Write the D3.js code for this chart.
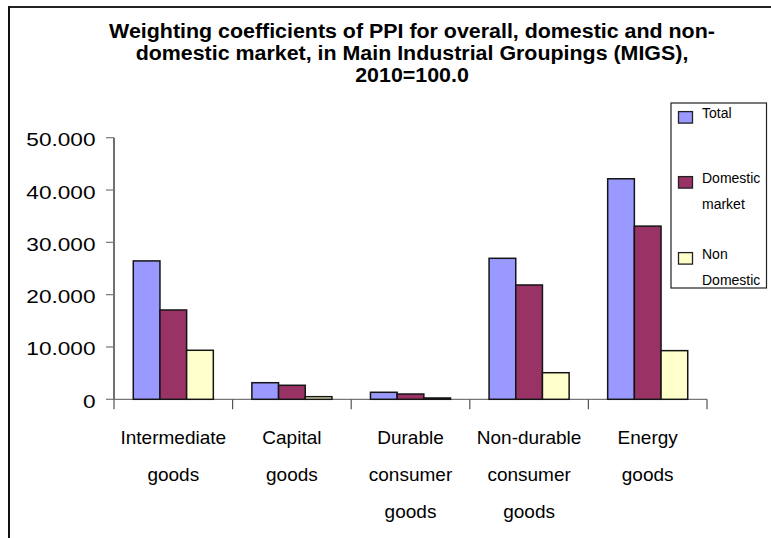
<!DOCTYPE html>
<html>
<head>
<meta charset="utf-8">
<script src="https://cdn.jsdelivr.net/npm/d3@7/dist/d3.min.js"></script>
<style>
  html, body { margin: 0; padding: 0; background: #fff; }
  svg { display: block; }
  text { font-family: "Liberation Sans", Arial, sans-serif; fill: #000; }
</style>
</head>
<body>
<svg id="chart" width="771" height="538"></svg>
<script>
// ---- data ----
const categories = [
  ["Intermediate", "goods"],
  ["Capital", "goods"],
  ["Durable", "consumer", "goods"],
  ["Non-durable", "consumer", "goods"],
  ["Energy", "goods"]
];
const seriesNames = ["Total", "Domestic market", "Non Domestic"];
const legendLines = [["Total"], ["Domestic", "market"], ["Non", "Domestic"]];
const totalValues    = [26.45, 3.17, 1.34, 26.95, 42.15];
const domesticValues = [17.07, 2.68, 1.01, 21.85, 33.10];
const nonDomValues   = [9.37, 0.50, 0.25, 5.08, 9.30];
const yTicks = [0, 10, 20, 30, 40, 50];
const yTickLabels = ["0", "10.000", "20.000", "30.000", "40.000", "50.000"];
const titleLines = [
  "Weighting coefficients of PPI for overall, domestic and non-",
  "domestic market, in Main Industrial Groupings (MIGS),",
  "2010=100.0"
];
const colors = ["#9999FF", "#993366", "#FFFFCC"];

const seriesValues = [totalValues, domesticValues, nonDomValues];

const svg = d3.select("#chart");

// outer frame (top and left)
svg.append("line").attr("x1", 9).attr("y1", 7).attr("x2", 771).attr("y2", 7)
  .attr("stroke", "#222").attr("stroke-width", 2);
svg.append("line").attr("x1", 9).attr("y1", 6).attr("x2", 9).attr("y2", 538)
  .attr("stroke", "#111").attr("stroke-width", 2);

// title
const titleG = svg.append("g");
titleLines.forEach((t, i) => {
  titleG.append("text")
    .attr("transform", `translate(412,${37.7 + i * 22}) scale(1.07,1)`)
    .attr("text-anchor", "middle")
    .attr("font-weight", "bold")
    .attr("font-size", 20)
    .text(t);
});

// scales
const plotLeft = 114, plotRight = 707, plotTop = 137.7, plotBottom = 399.3;
const x0 = d3.scaleBand().domain(d3.range(categories.length)).range([plotLeft, plotRight]).padding(0);
const bw = x0.bandwidth();
const groupW = bw * 0.675;
const x1 = d3.scaleBand().domain(d3.range(seriesNames.length))
  .range([(bw - groupW) / 2, (bw + groupW) / 2]).padding(0);
const y = d3.scaleLinear().domain([0, 50]).range([plotBottom, plotTop]);

// y axis
const yAxis = svg.append("g");
yAxis.append("line").attr("x1", plotLeft).attr("x2", plotLeft)
  .attr("y1", y(50)).attr("y2", y(0)).attr("stroke", "#222").attr("stroke-width", 1.3);
yTicks.forEach((v, i) => {
  yAxis.append("line").attr("x1", plotLeft - 8).attr("x2", plotLeft)
    .attr("y1", y(v)).attr("y2", y(v)).attr("stroke", "#777").attr("stroke-width", 1.2);
  yAxis.append("text")
    .attr("transform", `translate(95.5,${y(v) + 8.5}) scale(1.19,1)`)
    .attr("text-anchor", "end")
    .attr("font-size", 19)
    .attr("fill", "#111")
    .text(yTickLabels[i]);
});

// x axis
const xAxis = svg.append("g");
xAxis.append("line").attr("x1", plotLeft).attr("x2", plotRight)
  .attr("y1", y(0)).attr("y2", y(0)).attr("stroke", "#777").attr("stroke-width", 1.3);
const tickXs = d3.range(categories.length).map(i => x0(i)).concat([x0(categories.length - 1) + bw]);
tickXs.forEach(tx => {
  xAxis.append("line").attr("x1", tx).attr("x2", tx)
    .attr("y1", y(0)).attr("y2", y(0) + 10).attr("stroke", i => "#555").attr("stroke-width", 1.2);
});
categories.forEach((lines, i) => {
  lines.forEach((ln, j) => {
    xAxis.append("text")
      .attr("x", x0(i) + bw / 2)
      .attr("y", 443.5 + j * 37)
      .attr("text-anchor", "middle")
      .attr("font-size", 19)
      .attr("fill", "#111")
      .text(ln);
  });
});

// bars
const groups = svg.append("g").selectAll("g")
  .data(categories.map((c, i) => i))
  .join("g")
  .attr("transform", i => `translate(${x0(i)},0)`);
groups.selectAll("rect")
  .data(i => seriesValues.map((vals, s) => ({ s, v: vals[i] })))
  .join("rect")
  .attr("x", d => x1(d.s))
  .attr("width", x1.bandwidth())
  .attr("y", d => y(d.v))
  .attr("height", d => y(0) - y(d.v))
  .attr("fill", d => colors[d.s])
  .attr("stroke", "#151515")
  .attr("stroke-width", 1.5);

// legend
const lg = svg.append("g");
lg.append("rect").attr("x", 671).attr("y", 103).attr("width", 95.5).attr("height", 185)
  .attr("fill", "#fff").attr("stroke", "#222").attr("stroke-width", 1.2);
const legendBaselines = [118.3, 183.3, 259.3];
legendLines.forEach((lines, s) => {
  const b = legendBaselines[s];
  lg.append("rect").attr("x", 678.5).attr("y", b - 6.7).attr("width", 14).attr("height", 11.5)
    .attr("fill", colors[s]).attr("stroke", "#222").attr("stroke-width", 1.3);
  lines.forEach((ln, j) => {
    lg.append("text").attr("x", 702).attr("y", b + j * 26)
      .attr("font-size", 14).attr("fill", "#111").text(ln);
  });
});
</script>
</body>
</html>
